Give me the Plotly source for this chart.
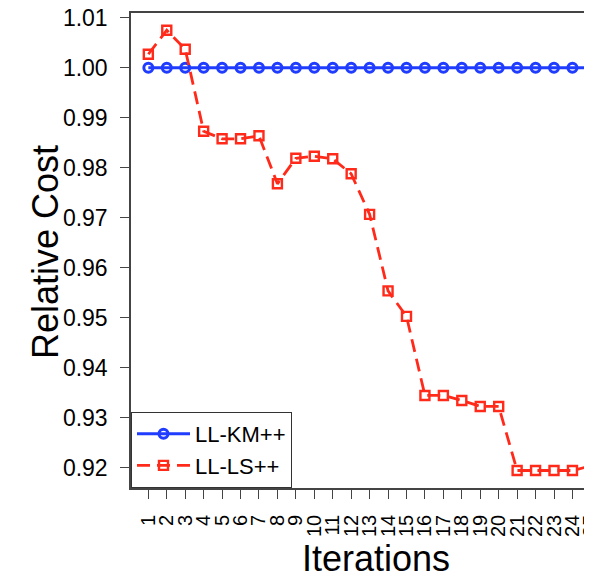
import plotly.graph_objects as go

iterations = list(range(1, 26))
ll_km = [1.0] * 25
ll_ls = [1.0027, 1.0075, 1.0037, 0.9873, 0.9858, 0.9858, 0.9864, 0.9768, 0.9819, 0.9823,
         0.9818, 0.9788, 0.9707, 0.9554, 0.9503, 0.9345, 0.9345, 0.9335, 0.9323, 0.9323,
         0.9195, 0.9195, 0.9195, 0.9195, 0.9204]
x_tick_labels = [str(i) for i in iterations]
y_ticks = [0.92, 0.93, 0.94, 0.95, 0.96, 0.97, 0.98, 0.99, 1.00, 1.01]

BLUE = "#1f3cff"
RED = "#ff2a1a"
FONT = "Liberation Sans, Arial, Helvetica, sans-serif"

# page body has an 8px default margin; figure sized so the plot's right edge meets the window edge
W, H = 584, 570
ML, MT, MB = 123, 5, 90
PW, PH = W - ML, H - MT - MB
OFF = 8  # body margin


def px_to_paper_x(sx):
    return (sx - OFF - ML) / PW


def px_to_paper_y(sy):
    return (H - MB - (sy - OFF)) / PH


fig = go.Figure()
fig.add_trace(go.Scatter(
    x=iterations, y=ll_km, mode="lines+markers", name="LL-KM++",
    line=dict(color=BLUE, width=3),
    marker=dict(symbol="circle-open", size=9, color=BLUE, line=dict(color=BLUE, width=3)),
))
fig.add_trace(go.Scatter(
    x=iterations, y=ll_ls, mode="lines+markers", name="LL-LS++",
    line=dict(color=RED, width=2.8, dash="13px,7px"),
    marker=dict(symbol="square-open", size=9, color=RED, line=dict(color=RED, width=2.4)),
))

fig.update_layout(
    width=W, height=H,
    margin=dict(l=ML, r=0, t=MT, b=MB, autoexpand=False),
    paper_bgcolor="white", plot_bgcolor="white",
    font=dict(family=FONT, color="black"),
    showlegend=True,
    legend=dict(
        x=0, y=0, xanchor="left", yanchor="bottom",
        bgcolor="white", bordercolor="#333", borderwidth=1,
        font=dict(size=22, family=FONT),
        itemwidth=53,
    ),
    annotations=[
        dict(text="Iterations", x=px_to_paper_x(375.5), xref="paper",
             y=px_to_paper_y(558), yref="paper", xanchor="center", yanchor="middle",
             showarrow=False, font=dict(size=36, family=FONT)),
        dict(text="Relative Cost", x=px_to_paper_x(46), xref="paper",
             y=px_to_paper_y(252), yref="paper", xanchor="center", yanchor="middle",
             showarrow=False, textangle=-90, font=dict(size=36, family=FONT)),
    ],
)

fig.update_xaxes(
    range=[0.06, 25.06],
    tickmode="array", tickvals=iterations, ticktext=x_tick_labels,
    tickangle=-90, tickfont=dict(size=20, family=FONT),
    ticks="outside", ticklen=9, tickwidth=1, tickcolor="#444",
    showline=True, linecolor="#444", linewidth=1.5, mirror=True,
    showgrid=False, zeroline=False, ticklabelstandoff=8, automargin=False,
    ticklabeloverflow="allow",
)
fig.update_yaxes(
    range=[0.916, 1.01094],
    tickmode="array", tickvals=y_ticks, ticktext=[f"{v:.2f}" for v in y_ticks],
    tickfont=dict(size=23, family=FONT),
    ticks="outside", ticklen=9, tickwidth=1, tickcolor="#444",
    showline=True, linecolor="#444", linewidth=1.5, mirror=False,
    showgrid=False, zeroline=False, ticklabelstandoff=8, automargin=False,
    ticklabeloverflow="allow",
)

fig.write_html("out.html")
